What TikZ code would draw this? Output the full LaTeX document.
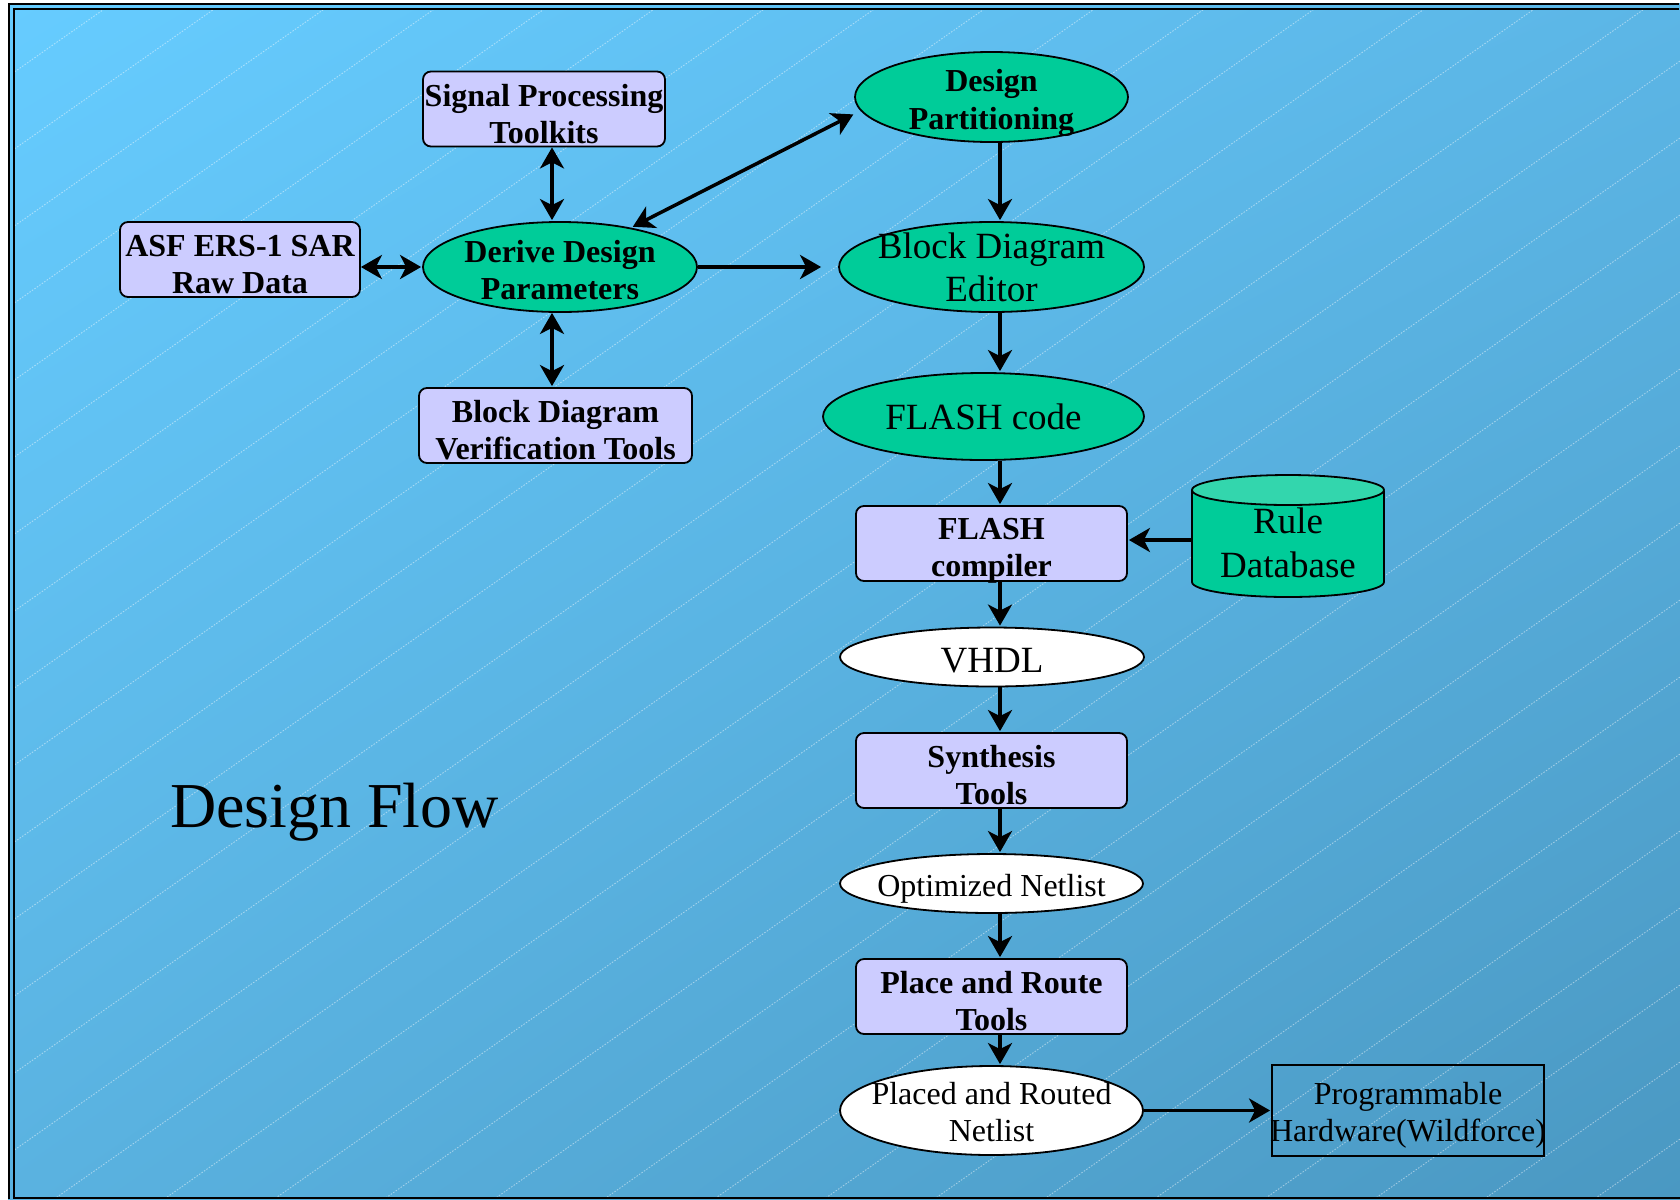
\documentclass[tikz,border=0pt]{standalone}
\usepackage{fontspec}
\setmainfont{Liberation Serif}
\usetikzlibrary{shapes.geometric,arrows.meta,shadings}

\definecolor{bgA}{RGB}{102,204,255}
\definecolor{bgB}{RGB}{92,182,230}
\definecolor{bgC}{RGB}{90,178,224}
\definecolor{bgD}{RGB}{74,152,194}
\definecolor{toolfill}{RGB}{204,204,255}
\definecolor{stagegreen}{RGB}{0,204,153}
\definecolor{dbtop}{RGB}{51,214,173}

\newcommand{\toolfont}{\fontsize{32bp}{37bp}\selectfont\bfseries}
\newcommand{\bigfont}{\fontsize{37bp}{43bp}\selectfont}
\newcommand{\netfont}{\fontsize{32bp}{37bp}\selectfont}
\newcommand{\lift}[1]{\rule{0pt}{#1}} % taller first line, pushes the text down

\tikzset{
  tool/.style={draw, line width=1.8bp, rounded corners=8bp, fill=toolfill,
    inner sep=0pt, inner ysep=-10bp, minimum height=75bp, align=center, font=\toolfont},
  stage/.style={ellipse, draw, line width=1.8bp, fill=stagegreen,
    inner sep=-14bp, align=center},
  netlist/.style={ellipse, draw, line width=1.8bp, fill=white,
    inner sep=-14bp, align=center},
  hatch/.style={white, opacity=0.45, line width=0.9bp,
    dash pattern=on 1.5bp off 1.5bp},
  flow/.style={line width=3.5bp}
}

\begin{document}
\begin{tikzpicture}[
	x=1bp, y=-1bp, % work in pixels, y going down
	>={Stealth[length=21bp,width=24bp,inset=6bp]}, % big notched heads
	shorten >=1bp,
	->
]
\useasboundingbox (0,0) rectangle (1680,1199);

% slide background
\shade[upper left=bgA, upper right=bgB, lower left=bgC, lower right=bgD]
  (8,3) rectangle (1680,1199);
\begin{scope}
\clip (14,10) rectangle (1680,1197);
\foreach \k in {0,...,31}
  \draw[hatch,-] (0,82+77*\k) -- ++(3500,-2450);
\end{scope}
\draw[line width=2bp,-] (8.5,1199) -- (8.5,3.5) -- (1680,3.5);
\draw[line width=2bp,-] (1680,1197.5) -- (13.5,1197.5) -- (13.5,9) -- (1680,9);

\coordinate (lspine) at (552,0);
\coordinate (spine) at (1000,0);

% left group
\node[tool, minimum width=242bp] (sig) at (544,109) {\lift{32bp}Signal Processing\\Toolkits};
\node[tool, minimum width=240bp] (asf) at (240,259.5) {\lift{31bp}ASF ERS-1 SAR\\Raw Data};
\node[stage, font=\toolfont, minimum width=274bp, minimum height=90bp] (derive) at (560,267) {\lift{29bp}Derive Design\\Parameters};
\node[tool, minimum width=273bp] (bdvt) at (555.5,425.5) {\lift{32bp}Block Diagram\\Verification Tools};

% main column
\node[stage, font=\fontsize{32bp}{38bp}\selectfont\bfseries, minimum width=273bp, minimum height=90bp] (dpart) at (991.5,97) {\lift{35bp}Design\\Partitioning};
\node[stage, font=\bigfont, minimum width=305bp, minimum height=90bp] (bde) at (991.5,267) {Block Diagram\\Editor};
\node[stage, font=\bigfont, minimum width=321bp, minimum height=87bp] (fcode) at (983.5,416.5) {FLASH code};
\node[tool, minimum width=271bp] (fcomp) at (991.5,543.5) {\lift{36bp}FLASH\\compiler};
\node[netlist, font=\bigfont, minimum width=304bp, minimum height=59bp] (vhdl) at (992,657) {\lift{31bp}VHDL};
\node[tool, minimum width=271bp] (synth) at (991.5,770.5) {\lift{31bp}Synthesis\\Tools};
\node[netlist, font=\netfont, minimum width=303bp, minimum height=59bp] (opt) at (991.5,883.5) {\lift{32bp}Optimized Netlist};
\node[tool, minimum width=271bp] (pnr) at (991.5,996.5) {\lift{31bp}Place and Route\\Tools};
\node[netlist, font=\netfont, minimum width=303bp, minimum height=89bp] (prn) at (991.5,1110.5) {\lift{25bp}Placed and Routed\\Netlist};

% right side: the database drum, its node only carries the text
\fill[stagegreen] (1192,490) -- (1192,582) arc[start angle=180, end angle=360, x radius=96bp, y radius=15bp] -- (1384,490) -- cycle;
\draw[line width=1.8bp,-] (1192,490) -- (1192,582) arc[start angle=180, end angle=360, x radius=96bp, y radius=15bp] -- (1384,490);
\draw[line width=1.8bp, fill=dbtop] (1288,490) ellipse[x radius=96bp, y radius=15bp];
\node[font=\fontsize{37bp}{44bp}\selectfont, align=center, inner sep=0pt,
  minimum width=192bp, minimum height=100bp] (rule) at (1288,540) {\lift{32bp}Rule\\Database};
\node[draw, line width=1.8bp, inner sep=0pt, inner xsep=-4bp, align=center, font=\netfont,
  minimum width=272bp, minimum height=91bp] (hw) at (1408,1110.5) {\lift{31bp}Programmable\\Hardware(Wildforce)};

\node[font=\fontsize{64bp}{70bp}\selectfont, anchor=base] (title) at (334.5,827) {Design Flow};

\path[flow]
(asf.east |- derive.west) edge[<->] (derive.west)
(sig.south -| lspine) edge[<->] (derive.north -| lspine)
(derive.south -| lspine) edge[<->] (bdvt.north -| lspine)
(derive.29) edge[<->, shorten <=2bp, shorten >=8bp] (dpart.186)
(derive.east) edge[shorten >=17bp] (bde.west)
(dpart.south -| spine) edge (bde.north -| spine)
(bde.south -| spine) edge (fcode.north -| spine)
(fcode.south -| spine) edge (fcomp.north -| spine)
(fcomp.south -| spine) edge (vhdl.north -| spine)
(vhdl.south -| spine) edge (synth.north -| spine)
(synth.south -| spine) edge (opt.north -| spine)
(opt.south -| spine) edge (pnr.north -| spine)
(pnr.south -| spine) edge (prn.north -| spine)
(rule.west) edge (rule.west -| fcomp.east)
(prn.east) edge (hw.west)
;
\end{tikzpicture}
\end{document}
